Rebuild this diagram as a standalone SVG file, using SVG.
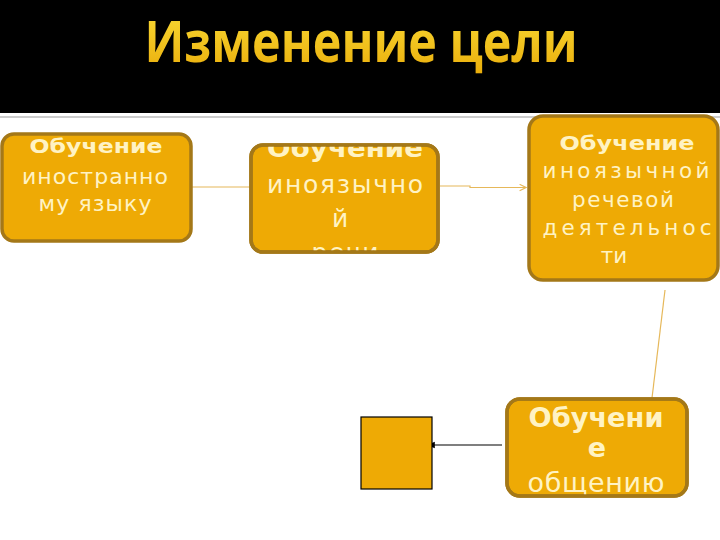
<svg xmlns="http://www.w3.org/2000/svg" width="720" height="540" viewBox="0 0 720 540">
<defs>
<style>
.box{fill:#eeaa05;stroke:#a47818;stroke-width:3.5}
.t{font-family:"DejaVu Sans",Verdana,sans-serif;fill:#fff3c4;text-anchor:middle}
.b{font-weight:bold}
.c{fill:none;stroke:#e6b85a;stroke-width:1.2}
</style>
<linearGradient id="tg" x1="0" y1="0" x2="0" y2="1">
<stop offset="0" stop-color="#fbe03a"/>
<stop offset="1" stop-color="#e9aa08"/>
</linearGradient>
<clipPath id="c2"><rect x="251" y="145" width="187" height="107" rx="11"/></clipPath>
<clipPath id="c4"><rect x="507" y="400" width="180" height="96" rx="11"/></clipPath>
<marker id="open" viewBox="0 0 10 10" refX="9" refY="5" markerWidth="8" markerHeight="8" orient="auto" markerUnits="userSpaceOnUse">
<path d="M1,1 L9,5 L1,9" fill="none" stroke="#e6b85a" stroke-width="1.4"/>
</marker>
<marker id="solid" viewBox="0 0 10 10" refX="1" refY="5" markerWidth="8" markerHeight="8" orient="auto-start-reverse" markerUnits="userSpaceOnUse">
<path d="M0,1 L10,5 L0,9 Z" fill="#000"/>
</marker>
</defs>
<rect x="0" y="0" width="720" height="540" fill="#fff"/>
<g id="header">
<rect x="0" y="0" width="720" height="113" fill="#000"/>
<text x="361" y="62" font-family="'Open Sans','Noto Sans',sans-serif" font-weight="bold" font-size="58" fill="url(#tg)" text-anchor="middle" textLength="433" lengthAdjust="spacingAndGlyphs">Изменение цели</text>
<line x1="0" y1="117" x2="720" y2="117" stroke="#9a9a9a" stroke-width="1.2"/>
</g>
<g id="connectors">
<line class="c" x1="192" y1="187" x2="250" y2="187"/>
<polyline class="c" points="440,186 470,186 470,187.5 526,187.5" marker-end="url(#open)"/>
<line class="c" x1="665" y1="290" x2="652" y2="398"/>
<line x1="502" y1="445" x2="434" y2="445" stroke="#000" stroke-width="1.2" marker-end="url(#solid)"/>
</g>
<g id="node1">
<rect class="box" x="2" y="134" width="189" height="107" rx="12"/>
<text class="t b" x="96" y="153" font-size="20" textLength="133" lengthAdjust="spacingAndGlyphs">Обучение</text>
<text class="t" x="95" y="184" font-size="22" textLength="146" lengthAdjust="spacing">иностранно</text>
<text class="t" x="95" y="211" font-size="22" textLength="113" lengthAdjust="spacing">му языку</text>
</g>
<g id="node2">
<rect class="box" x="251" y="145" width="187" height="107" rx="12"/>
<g clip-path="url(#c2)">
<text class="t b" x="345" y="157" font-size="25" textLength="156" lengthAdjust="spacingAndGlyphs">Обучение</text>
<text class="t" x="345" y="193" font-size="25" textLength="156" lengthAdjust="spacing">иноязычно</text>
<text class="t" x="340" y="227" font-size="25">й</text>
<text class="t" x="345" y="261" font-size="25" textLength="67" lengthAdjust="spacing">речи</text>
</g>
<rect x="251" y="145" width="187" height="107" rx="12" fill="none" stroke="#a47818" stroke-width="3.5"/>
</g>
<g id="node3">
<rect class="box" x="529" y="116" width="189" height="164" rx="14"/>
<text class="t b" x="627" y="150" font-size="19" textLength="135" lengthAdjust="spacingAndGlyphs">Обучение</text>
<text class="t" x="626" y="178" font-size="21.5" textLength="167" lengthAdjust="spacing">иноязычной</text>
<text class="t" x="623" y="207" font-size="21.5" textLength="102" lengthAdjust="spacing">речевой</text>
<text class="t" x="627" y="235" font-size="21.5" textLength="169" lengthAdjust="spacing">деятельнос</text>
<text class="t" x="614" y="263" font-size="21.5">ти</text>
</g>
<g id="node4">
<rect class="box" x="507" y="399" width="180" height="97" rx="13"/>
<g clip-path="url(#c4)">
<text class="t b" x="596" y="427" font-size="27" textLength="135" lengthAdjust="spacingAndGlyphs">Обучени</text>
<text class="t b" x="597" y="457" font-size="27">е</text>
<text class="t" x="596" y="492" font-size="27" textLength="137" lengthAdjust="spacing">общению</text>
</g>
<rect x="507" y="399" width="180" height="97" rx="13" fill="none" stroke="#a47818" stroke-width="3.5"/>
</g>
<g id="node5">
<rect x="361" y="417" width="71" height="72" fill="#eeaa05" stroke="#000" stroke-width="1.2"/>
</g>
</svg>
